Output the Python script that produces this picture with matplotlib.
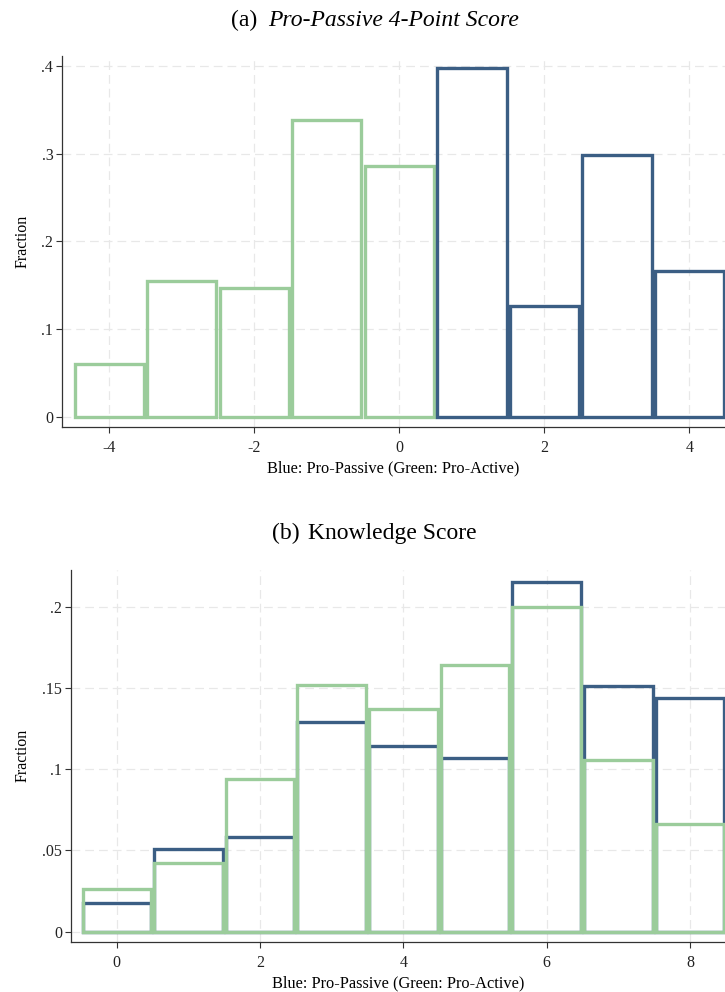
import matplotlib.pyplot as plt
from matplotlib.ticker import FixedLocator

# ---- data ----
# (a) Pro-Passive 4-point score
score_a_green = [-4, -3, -2, -1, 0]
frac_a_green = [0.060, 0.155, 0.147, 0.338, 0.286]
score_a_blue = [1, 2, 3, 4]
frac_a_blue = [0.398, 0.126, 0.299, 0.166]
xticks_a = [-4, -2, 0, 2, 4]
yticks_a = [0, 0.1, 0.2, 0.3, 0.4]
ylabels_a = ["0", ".1", ".2", ".3", ".4"]

# (b) knowledge score
score_b = [0, 1, 2, 3, 4, 5, 6, 7, 8]
frac_b_blue = [0.0175, 0.051, 0.0585, 0.129, 0.1145, 0.107, 0.215, 0.151, 0.144]
frac_b_green = [0.026, 0.0425, 0.094, 0.152, 0.137, 0.164, 0.200, 0.1055, 0.066]
xticks_b = [0, 2, 4, 6, 8]
yticks_b = [0, 0.05, 0.1, 0.15, 0.2]
ylabels_b = ["0", ".05", ".1", ".15", ".2"]

BLUE = "#3b5e84"
GREEN = "#9bcc9b"
GRID = "#e8e8e8"
AXC = "#333333"

plt.rcParams["font.family"] = "Liberation Serif"

fig = plt.figure(figsize=(7.25, 9.92), dpi=100)

W, H = 725.0, 992.0


def make_axes(left_px, top_px, bottom_px):
    return fig.add_axes([left_px / W, 1 - bottom_px / H, 1 - left_px / W, (bottom_px - top_px) / H])


def style(ax, xticks, yticks, ylabels):
    for s in ["top", "right"]:
        ax.spines[s].set_visible(False)
    for s in ["left", "bottom"]:
        ax.spines[s].set_color(AXC)
        ax.spines[s].set_linewidth(0.9)
    ax.xaxis.set_major_locator(FixedLocator(xticks))
    ax.set_xticklabels([str(t) for t in xticks])
    ax.set_yticks(yticks)
    ax.set_yticklabels(ylabels)
    ax.tick_params(axis="both", direction="out", length=4, width=0.8, color=AXC,
                   labelsize=11.5, labelcolor="#222222")
    ax.tick_params(axis="x", pad=5.5)
    ax.tick_params(axis="y", pad=2.5)
    ax.grid(True, color=GRID, linestyle=(0, (7, 4)), linewidth=0.9)
    ax.set_axisbelow(True)
    ax.set_ylabel("Fraction", fontsize=11.5, labelpad=8)
    ax.set_xlabel("Blue: Pro-Passive (Green: Pro-Active)", fontsize=11.8, labelpad=3)


bw = 0.955
lw = 2.4

# ---- panel (a) ----
ax1 = make_axes(62.3, 56, 427)
ax1.bar(score_a_green, frac_a_green, width=bw, fill=False, edgecolor=GREEN, linewidth=lw,
        joinstyle="miter")
ax1.bar(score_a_blue, frac_a_blue, width=bw, fill=False, edgecolor=BLUE, linewidth=lw,
        joinstyle="miter")
ax1.set_xlim(-4.648, 4.49)
ax1.set_ylim(-0.01175, 0.4114)
style(ax1, xticks_a, yticks_a, ylabels_a)

# ---- panel (b) ----
ax2 = make_axes(71, 570, 941.7)
ax2.bar(score_b, frac_b_blue, width=bw, fill=False, edgecolor=BLUE, linewidth=lw,
        joinstyle="miter")
ax2.bar(score_b, frac_b_green, width=bw, fill=False, edgecolor=GREEN, linewidth=lw,
        joinstyle="miter")
ax2.set_xlim(-0.638, 8.489)
ax2.set_ylim(-0.00615, 0.2226)
style(ax2, xticks_b, yticks_b, ylabels_b)

# ---- panel titles ----
fig.text(257 / W, 1 - 26 / H, "(a)", ha="right", va="baseline", fontsize=17)
fig.text(268 / W, 1 - 26 / H, "Pro-Passive 4-Point Score", ha="left", va="baseline",
         fontsize=17, style="italic")
fig.text(300 / W, 1 - 539 / H, "(b)", ha="right", va="baseline", fontsize=17)
fig.text(308 / W, 1 - 539 / H, "Knowledge Score", ha="left", va="baseline", fontsize=17)

fig.savefig("out.png", dpi=100)
